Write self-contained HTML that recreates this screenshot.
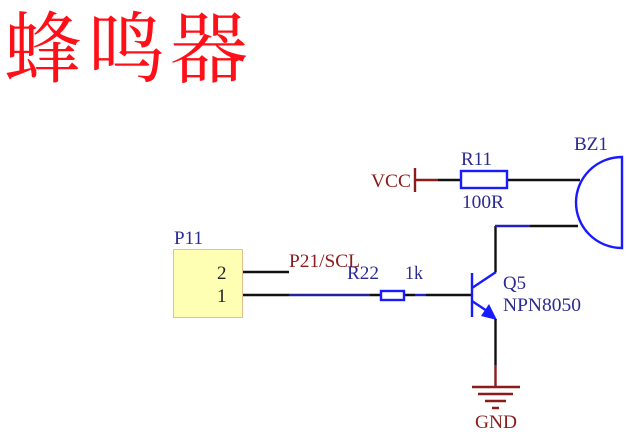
<!DOCTYPE html>
<html><head><meta charset="utf-8">
<style>
html,body{margin:0;padding:0;background:#fff;width:629px;height:432px;overflow:hidden}
svg{display:block;filter:blur(0.35px)}
text{font-family:"Liberation Serif",serif;font-size:19px}
.t{font-family:"Noto Serif CJK SC","Liberation Serif",serif;font-size:78px;fill:#ff1018}
.b{fill:#2a2a90}
.r{fill:#8a1c1c}
.k{fill:#222}
</style></head><body>
<svg width="629" height="432" viewBox="0 0 629 432" xmlns="http://www.w3.org/2000/svg">
<text class="t" x="4 87 170" y="76">蜂鸣器</text>

<!-- Connector -->
<rect x="173.500" y="249.500" width="69" height="68" fill="#ffffb4" stroke="#e4c090" stroke-width="1"/>
<text class="b" x="174" y="244" textLength="29" lengthAdjust="spacingAndGlyphs">P11</text>
<text class="k" x="217" y="279">2</text>
<text class="k" x="217" y="302">1</text>
<g fill="none" stroke-width="2.400">
<path d="M243 272H289M243 295H289" stroke="#111"/>
<path d="M289 295H370" stroke="#2222a0"/>
<path d="M370 295H380M404 295H415M426 295H472" stroke="#111"/>
<path d="M415 295H426" stroke="#2222c0"/>
<rect x="381" y="291" width="23" height="9" stroke="#1a1aff"/>
</g>
<text class="r" x="289" y="267" textLength="71" lengthAdjust="spacingAndGlyphs">P21/SCL</text>
<text class="b" x="347" y="279" textLength="32" lengthAdjust="spacingAndGlyphs">R22</text>
<text class="b" x="405" y="279" textLength="18" lengthAdjust="spacingAndGlyphs">1k</text>

<!-- Transistor -->
<g fill="none" stroke="#1a1aff" stroke-width="2.400">
<path d="M472 273V317"/>
<path d="M472 288L496 272"/>
<path d="M472 301L490 313"/>
</g>
<polygon points="497,320 481,316 489,304" fill="#1a1aff"/>
<text class="b" x="503" y="289" textLength="23" lengthAdjust="spacingAndGlyphs">Q5</text>
<text class="b" x="503" y="311" textLength="78" lengthAdjust="spacingAndGlyphs">NPN8050</text>

<g fill="none" stroke-width="2.400">
<path d="M495.500 272V226" stroke="#111"/>
<path d="M495.500 319V365" stroke="#111"/>
<path d="M495.500 365V387" stroke="#8a1c1c"/>
<path d="M472 387H520M478 394H513M485 401H506M492 408H499" stroke="#8a1c1c"/>
<path d="M495 226H530" stroke="#2222c0"/>
<path d="M530 226H578" stroke="#111"/>
<path d="M438 180H461M507 180H580" stroke="#111"/>
<path d="M415 180H438" stroke="#8a1c1c"/>
<path d="M415 168V192" stroke="#8a1c1c"/>
<rect x="461" y="171" width="46" height="17" stroke="#1a1aff"/>
<path d="M622 157A46 45.500 0 0 0 622 248Z" stroke="#1a1aff"/>
</g>
<text class="r" x="371" y="187" textLength="40" lengthAdjust="spacingAndGlyphs">VCC</text>
<text class="b" x="461" y="165" textLength="31" lengthAdjust="spacingAndGlyphs">R11</text>
<text class="b" x="462" y="208" textLength="42" lengthAdjust="spacingAndGlyphs">100R</text>
<text class="b" x="574" y="150" textLength="34" lengthAdjust="spacingAndGlyphs">BZ1</text>
<text class="r" x="475" y="428" textLength="42" lengthAdjust="spacingAndGlyphs">GND</text>
</svg>
</body></html>
